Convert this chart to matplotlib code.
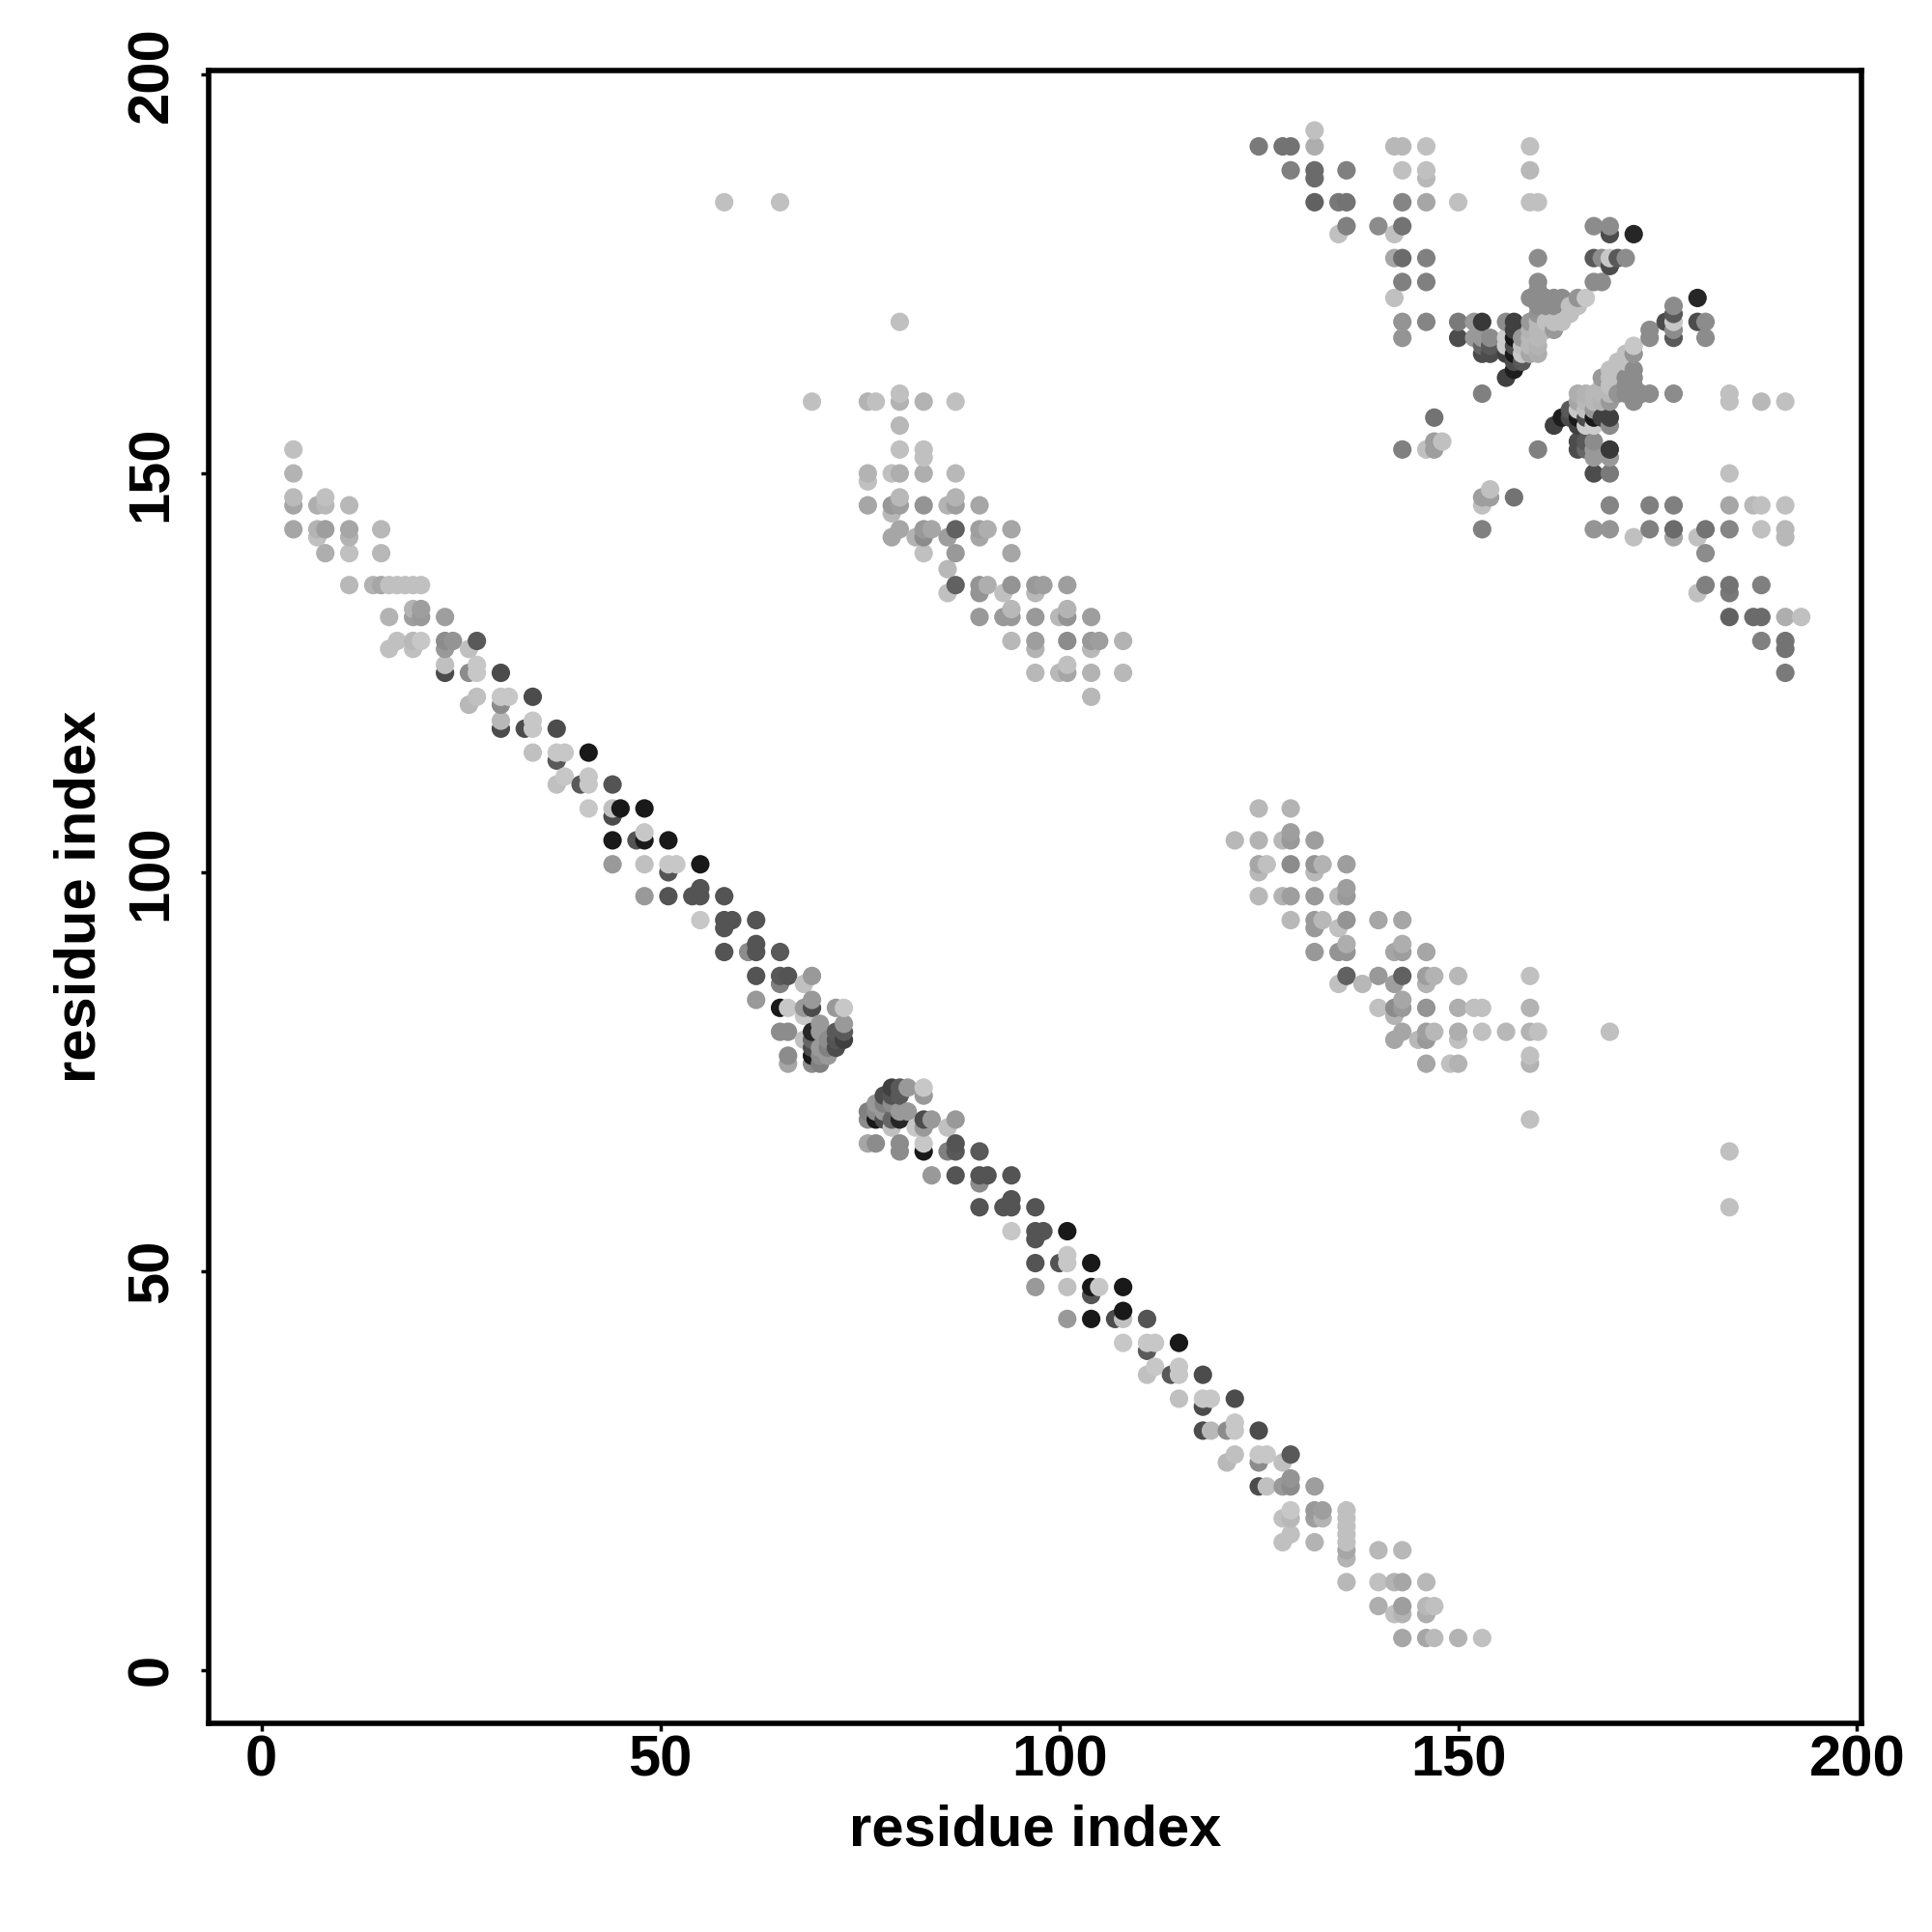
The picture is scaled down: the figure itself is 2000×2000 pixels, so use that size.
import numpy as np
import matplotlib
matplotlib.use("Agg")
import matplotlib.pyplot as plt

# contacts above the diagonal, the map is symmetric so the rest is mirrored

# long anti-diagonal band
band_i = [4, 4, 4, 4, 4, 7, 7, 7, 8, 8, 8, 8,
          11, 11, 11, 11, 11, 14, 15, 15, 15, 16, 16, 16, 17, 17, 18,
          19, 19, 19, 19, 19, 20, 20, 20, 20,
          23, 23, 23, 23, 23, 24, 26, 26, 26, 27, 27, 27, 27,
          30, 30, 30, 30, 30, 31, 33, 34, 34, 34, 34,
          37, 37, 37, 37, 38, 38, 40, 41, 41, 41, 41,
          44, 44, 44, 44, 44, 45, 47, 48, 48, 48, 48, 48,
          51, 51, 51, 51, 52, 54, 55, 55, 55, 55,
          58, 58, 58, 58, 59, 61, 62, 62, 62, 62, 62,
          65, 65, 65, 65, 65, 66, 66, 66, 66, 66, 68, 68, 68, 68,
          69, 69, 69, 69, 69, 69, 69, 69,
          70, 70, 70, 70, 70, 71, 71, 71, 72, 72, 72, 72, 73, 73, 73, 73]
band_j = [153, 150, 147, 146, 143, 146, 143, 142, 147, 146, 143, 140,
          146, 143, 142, 140, 136, 136, 143, 140, 136, 136, 132, 128, 136, 129, 136,
          136, 133, 132, 129, 128, 136, 133, 132, 129,
          132, 129, 128, 126, 125, 129, 128, 125, 121, 129, 126, 125, 122,
          125, 122, 121, 119, 118, 122, 118, 122, 119, 118, 115,
          118, 115, 114, 111, 115, 112, 111, 115, 112, 111, 108,
          111, 108, 107, 104, 101, 108, 104, 108, 105, 104, 101, 97,
          104, 101, 100, 97, 101, 97, 101, 98, 97, 94,
          97, 94, 93, 90, 94, 90, 94, 91, 90, 87, 84,
          90, 87, 86, 83, 80, 87, 83, 80, 77, 76, 86, 83, 82, 79,
          87, 84, 83, 80, 79, 78, 77, 76,
          81, 80, 78, 77, 76, 79, 78, 77, 83, 80, 79, 78, 83, 81, 80, 79]
band_grey = [.75, .7, .73, .65, .65, .68, .7, .75, .75, .72, .62, .68,
             .72, .65, .7, .75, .72, .7, .72, .72, .65, .75, .7, .75, .75, .75, .75,
             .75, .7, .62, .72, .75, .75, .62, .6, .78,
             .62, .55, .6, .75, .3, .58, .75, .55, .72, .35, .78, .78, .75,
             .3, .78, .55, .72, .3, .78, .3, .3, .78, .78, .75,
             .3, .78, .35, .75, .78, .78, .35, .1, .78, .78, .78,
             .33, .75, .3, .1, .6, .1, .33, .1, .78, .1, .75, .6,
             .1, .78, .33, .33, .78, .33, .1, .33, .33, .78,
             .33, .33, .33, .33, .33, .55, .33, .33, .33, .33, .6,
             .35, .35, .5, .1, .55, .33, .78, .55, .55, .65, .75, .6, .78, .75,
             .6, .6, .3, .15, .4, .3, .1, .55,
             .6, .6, .6, .55, .5, .55, .5, .6, .6, .35, .33, .3, .78, .6, .35, .25]

# shorter parallel band
side_i = [58, 65, 69, 76, 76, 76, 76, 77, 79, 79, 79, 79,
          80, 80, 80, 80, 80, 80, 80, 80, 80, 82,
          83, 83, 83, 83, 83, 83, 83, 83, 84, 86, 86, 86, 86,
          87, 87, 87, 87, 87, 87, 87, 90, 90, 90, 90, 90, 90, 91, 91, 93, 93,
          94, 94, 94, 94, 94, 94, 97, 97, 97, 97, 97, 97, 98, 100, 100,
          101, 101, 101, 101, 101, 101, 104, 104, 104, 104, 104, 105, 108, 108]
side_j = [184, 184, 159, 159, 150, 149, 146, 159, 150, 146, 145, 142,
          169, 160, 159, 156, 153, 150, 147, 146, 143, 142,
          159, 153, 152, 150, 146, 143, 142, 140, 143, 146, 142, 138, 135,
          159, 150, 147, 146, 143, 140, 136, 146, 143, 142, 136, 135, 132, 143, 136, 135, 132,
          143, 140, 136, 133, 132, 129, 136, 135, 132, 129, 128, 125, 136, 132, 125,
          136, 133, 132, 129, 126, 125, 132, 129, 128, 125, 122, 129, 129, 125]
side_grey = [.75, .75, .75, .7, .7, .75, .65, .75, .75, .6, .72, .65,
             .75, .75, .7, .72, .75, .68, .72, .62, .65, .7,
             .7, .75, .75, .68, .58, .6, .55, .75, .65, .7, .62, .72, .75,
             .75, .72, .7, .62, .38, .6, .38, .65, .62, .65, .58, .58, .6, .68, .68, .75, .6,
             .65, .65, .58, .72, .6, .72, .6, .72, .6, .62, .7, .72, .62, .72, .72,
             .62, .7, .58, .55, .75, .65, .62, .6, .72, .7, .72, .62, .7, .72]

# cluster at the top right
top_i = [125, 128, 129, 129, 132, 132, 132, 132, 132, 135, 135, 136, 136, 136, 140,
         142, 142, 142, 142,
         143, 143, 143, 143, 143, 143, 143, 143, 143,
         146, 146, 146, 146, 146, 146, 146, 146,
         147, 147, 147, 148, 150, 150, 150, 152, 152,
         153, 153, 153, 153, 153, 154, 154, 154,
         156, 156, 156, 156, 156,
         157, 157, 157, 157, 157, 157, 157,
         158, 158, 158, 158,
         159, 159, 159, 159, 159, 159, 159, 159, 159,
         160, 160, 160, 160, 160, 160, 160, 160, 160, 160, 160, 160,
         161, 161, 161, 161, 162, 162, 162, 162, 163, 163, 164, 164,
         165, 165, 166, 167, 167, 167, 168, 168, 169, 169, 169, 169, 170, 171, 172]
top_j = [191, 191, 191, 188, 193, 191, 188, 187, 184, 184, 180, 188, 184, 181, 181,
         191, 180, 177, 172,
         191, 188, 184, 181, 177, 174, 169, 167, 153,
         191, 188, 187, 184, 177, 174, 169, 153,
         157, 154, 153, 154, 184, 169, 167, 169, 167,
         169, 167, 166, 165, 160, 167, 166, 165,
         169, 167, 166, 165, 162,
         169, 168, 167, 166, 165, 164, 163,
         167, 166, 165, 164,
         191, 188, 184, 172, 169, 168, 167, 166, 165,
         184, 177, 174, 173, 172, 171, 170, 169, 168, 167, 166, 165,
         172, 171, 169, 168, 172, 171, 169, 168, 172, 169, 171, 170,
         172, 171, 172, 181, 177, 174, 177, 174, 181, 180, 177, 176, 177, 177, 180]
top_grey = [.48, .45, .45, .5, .75, .68, .42, .42, .38, .47, .75, .5, .45, .5, .55,
            .72, .75, .65, .75,
            .72, .75, .52, .45, .42, .5, .58, .58, .5,
            .75, .75, .72, .65, .5, .5, .52, .75,
            .45, .62, .62, .75, .75, .48, .3, .6, .6,
            .22, .6, .4, .3, .5, .55, .35, .3,
            .55, .8, .8, .25, .25,
            .25, .25, .1, .3, .1, .3, .12,
            .6, .75, .78, .35,
            .75, .72, .75, .55, .6, .7, .72, .72, .65,
            .75, .55, .55, .55, .55, .55, .58, .72, .72, .72, .7, .68,
            .55, .55, .75, .72, .55, .55, .75, .6, .55, .75, .75, .75,
            .58, .75, .78, .55, .35, .55, .55, .55, .55, .3, .78, .3, .35, .55, .15]

x_ticks = [0, 50, 100, 150, 200]
y_ticks = [0, 50, 100, 150, 200]

upper_i = np.array(band_i + side_i + top_i)
upper_j = np.array(band_j + side_j + top_j)
upper_grey = np.array(band_grey + side_grey + top_grey)

# both triangles, drawn in loop order so later residues sit on top
xs = np.concatenate([upper_i, upper_j])
ys = np.concatenate([upper_j, upper_i])
greys = np.concatenate([upper_grey, upper_grey])
order = np.lexsort((ys, xs))
xs, ys, greys = xs[order], ys[order], greys[order]

plt.rcParams["font.family"] = ["Liberation Sans", "DejaVu Sans"]
plt.rcParams["font.weight"] = "bold"

fig = plt.figure(figsize=(20, 20), dpi=100)
ax = fig.add_axes([215.7 / 2000, 1 - 1784 / 2000, (1927 - 215.7) / 2000, (1784 - 72.7) / 2000])
ax.scatter(xs, ys, s=190, c=greys, cmap="gray", vmin=0, vmax=1, linewidths=0, zorder=2)

ax.set_xlim(-6.66, 200.55)
ax.set_ylim(-6.7, 200.55)
ax.set_xticks(x_ticks)
ax.set_yticks(y_ticks)
ax.set_xticklabels([str(t) for t in x_ticks], fontsize=43, fontweight="bold")
ax.set_yticklabels([str(t) for t in y_ticks], fontsize=43, fontweight="bold",
                   rotation=90, va="center")
ax.tick_params(axis="x", length=6, width=2.5, color="black", pad=2.5)
ax.tick_params(axis="y", length=6, width=2.5, color="black", pad=16)
for side in ax.spines.values():
    side.set_linewidth(4)

ax.set_xlabel("residue index", fontsize=43, fontweight="bold", labelpad=12)
ax.set_ylabel("residue index", fontsize=43, fontweight="bold", labelpad=14)

fig.savefig("out.png", dpi=100, facecolor="white")
plt.close(fig)
